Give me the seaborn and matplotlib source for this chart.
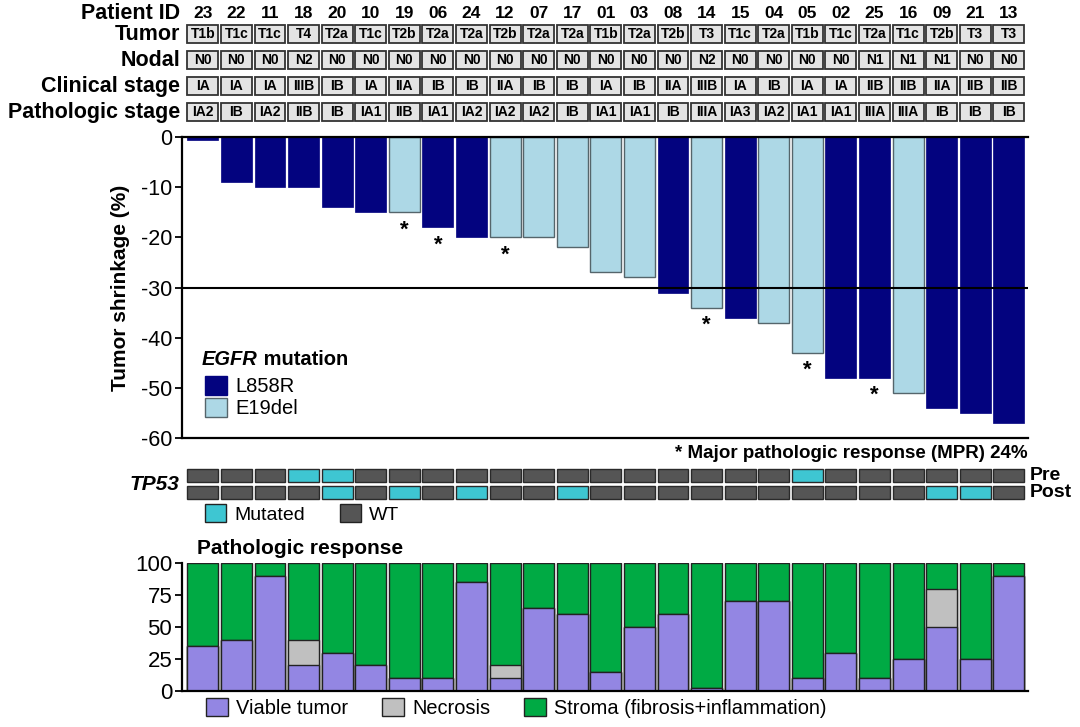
import numpy as np
import pandas as pd
import seaborn as sns
import matplotlib.pyplot as plt
from matplotlib.patches import Patch

# patients, ordered as in the waterfall
patients = ['23', '22', '11', '18', '20', '10', '19', '06', '24', '12', '07', '17', '01',
            '03', '08', '14', '15', '04', '05', '02', '25', '16', '09', '21', '13']
tumor = ['T1b', 'T1c', 'T1c', 'T4', 'T2a', 'T1c', 'T2b', 'T2a', 'T2a', 'T2b', 'T2a', 'T2a', 'T1b',
         'T2a', 'T2b', 'T3', 'T1c', 'T2a', 'T1b', 'T1c', 'T2a', 'T1c', 'T2b', 'T3', 'T3']
nodal = ['N0', 'N0', 'N0', 'N2', 'N0', 'N0', 'N0', 'N0', 'N0', 'N0', 'N0', 'N0', 'N0',
         'N0', 'N0', 'N2', 'N0', 'N0', 'N0', 'N0', 'N1', 'N1', 'N1', 'N0', 'N0']
clinical = ['IA', 'IA', 'IA', 'IIIB', 'IB', 'IA', 'IIA', 'IB', 'IB', 'IIA', 'IB', 'IB', 'IA',
            'IB', 'IIA', 'IIIB', 'IA', 'IB', 'IA', 'IA', 'IIB', 'IIB', 'IIA', 'IIB', 'IIB']
path_stage = ['IA2', 'IB', 'IA2', 'IIB', 'IB', 'IA1', 'IIB', 'IA1', 'IA2', 'IA2', 'IA2', 'IB', 'IA1',
              'IA1', 'IB', 'IIIA', 'IA3', 'IA2', 'IA1', 'IA1', 'IIIA', 'IIIA', 'IB', 'IB', 'IB']

shrinkage = [-0.5, -9, -10, -10, -14, -15, -15, -18, -20, -20, -20, -22, -27,
             -28, -31, -34, -36, -37, -43, -48, -48, -51, -54, -55, -57]
egfr = ['L858R', 'L858R', 'L858R', 'L858R', 'L858R', 'L858R', 'E19del', 'L858R', 'L858R',
        'E19del', 'E19del', 'E19del', 'E19del', 'E19del', 'L858R', 'E19del', 'L858R',
        'E19del', 'E19del', 'L858R', 'L858R', 'E19del', 'L858R', 'L858R', 'L858R']
mpr = ['19', '06', '12', '14', '05', '25']

tp53_pre = ['18', '20', '05']
tp53_post = ['20', '19', '24', '17', '09', '21']

viable = [35, 40, 90, 20, 30, 20, 10, 10, 85, 10, 65, 60, 15, 50, 60, 2, 70, 70, 10, 30, 10, 25, 50, 25, 90]
necrosis = [0, 0, 0, 20, 0, 0, 0, 0, 0, 10, 0, 0, 0, 0, 0, 0, 0, 0, 0, 0, 0, 0, 30, 0, 0]
stroma = [65, 60, 10, 60, 70, 80, 90, 90, 15, 80, 35, 40, 85, 50, 40, 98, 30, 30, 90, 70, 90, 75, 20, 75, 10]

# colours
navy = '#03037f'
light = '#add8e6'
cyan = '#3ec6d2'
wt_grey = '#555555'
c_viable = '#9386e3'
c_necro = '#c0c0c0'
c_stroma = '#00aa44'
box_fill = '#e4e4e4'

sns.set_style('ticks')
plt.rcParams['font.family'] = ['Liberation Sans', 'DejaVu Sans']
plt.rcParams['axes.unicode_minus'] = False
for k in ['text.color', 'axes.labelcolor', 'xtick.color', 'ytick.color', 'axes.edgecolor']:
    plt.rcParams[k] = 'black'

fig = plt.figure(figsize=(10.8, 7.27), dpi=100)
L, W = 182 / 1080, 846 / 1080
XL = (-0.62, 24.57)
xs = np.arange(len(patients))


def rect(top_px, bot_px):
    return [L, 1 - bot_px / 727, W, (bot_px - top_px) / 727]


# ---- header table
axh = fig.add_axes(rect(0, 125))
axh.set_xlim(XL)
axh.set_ylim(3.5, -1.3077)
axh.axis('off')
rows = [('Tumor', tumor), ('Nodal', nodal), ('Clinical stage', clinical), ('Pathologic stage', path_stage)]
for r, (name, vals) in enumerate(rows):
    axh.bar(xs, 0.66, bottom=r - 0.33, width=0.92, color=box_fill, edgecolor='#333333', linewidth=1.3)
    for x, v in zip(xs, vals):
        axh.text(x, r, v, ha='center', va='center', fontsize=10, fontweight='bold')
    axh.text(-0.68, r, name, ha='right', va='center', fontsize=15.5, fontweight='bold')
for x, p in zip(xs, patients):
    axh.text(x, -0.77, p, ha='center', va='center', fontsize=12.5, fontweight='bold')
axh.text(-0.68, -0.77, 'Patient ID', ha='right', va='center', fontsize=15.5, fontweight='bold')

# ---- waterfall
df = pd.DataFrame({'patient': patients, 'shrink': shrinkage, 'egfr': egfr})
ax = fig.add_axes(rect(137, 438))
sns.barplot(data=df, x='patient', y='shrink', hue='egfr', order=patients,
            hue_order=['L858R', 'E19del'], palette=[navy, light], dodge=False,
            width=0.92, saturation=1, errorbar=None, legend=False, ax=ax)
for bar in ax.patches:
    if np.allclose(bar.get_facecolor()[:3], plt.matplotlib.colors.to_rgb(light)):
        bar.set_edgecolor('#55656b')
        bar.set_linewidth(1)
    else:
        bar.set_edgecolor(navy)
        bar.set_linewidth(0.5)
ax.set_xlim(XL)
ax.set_ylim(-60, 0)
ax.set_yticks(range(-60, 1, 10))
ax.set_xticks([])
ax.set_xlabel('')
ax.set_ylabel('Tumor shrinkage (%)', fontsize=15, fontweight='bold')
ax.yaxis.set_label_coords(-0.062, 0.5)
ax.tick_params(axis='y', direction='out', length=5, width=1.3, labelsize=15.5, pad=2)
for s in ['left', 'bottom', 'top']:
    ax.spines[s].set_linewidth(1.6)
ax.spines['right'].set_visible(False)
ax.axhline(-30, color='black', lw=1.5, zorder=5)
for x, p, v in zip(xs, patients, shrinkage):
    if p in mpr:
        ax.text(x, v - 4.6, '*', ha='center', va='baseline', fontsize=16, fontweight='bold')

# legend title with italic gene name
t1 = fig.text(202 / 1080, 1 - 360 / 727, 'EGFR', fontsize=14.5, fontweight='bold', style='italic',
              va='center', ha='left')
ax.annotate(' mutation', xy=(1, 0), xycoords=t1, va='bottom', ha='left',
            fontsize=14.5, fontweight='bold')
fig.legend(handles=[Patch(facecolor=navy, edgecolor=navy, label='L858R'),
                    Patch(facecolor=light, edgecolor='#55656b', label='E19del')],
           loc='upper left', bbox_to_anchor=(205 / 1080, 1 - 376 / 727), ncol=1, frameon=False,
           fontsize=14.5, handlelength=1.1, handleheight=1.05, handletextpad=0.4,
           labelspacing=0.1, borderpad=0, borderaxespad=0)
ax.text(1.0, -0.05, '* Major pathologic response (MPR) 24%', transform=ax.transAxes,
        ha='right', va='center', fontsize=13.5, fontweight='bold')

# ---- TP53 grid
axt = fig.add_axes(rect(466, 502))
axt.set_xlim(XL)
axt.set_ylim(1.559, -0.559)
axt.axis('off')
for r, mut in enumerate([tp53_pre, tp53_post]):
    cols = [cyan if p in mut else wt_grey for p in patients]
    axt.bar(xs, 0.76, bottom=r - 0.38, width=0.92, color=cols, edgecolor='#2a2a2a', linewidth=1)
axt.text(-0.71, 0.5, 'TP53', ha='right', va='center', fontsize=15, fontweight='bold', style='italic')
axt.text(24.63, 0, 'Pre', ha='left', va='center', fontsize=14, fontweight='bold')
axt.text(24.63, 1, 'Post', ha='left', va='center', fontsize=14, fontweight='bold')
fig.legend(handles=[Patch(facecolor=cyan, edgecolor='#222222', label='Mutated'),
                    Patch(facecolor=wt_grey, edgecolor='#222222', label='WT')],
           loc='upper left', bbox_to_anchor=(205 / 1080, 1 - 504 / 727), ncol=2, frameon=False,
           fontsize=14, handlelength=1.1, handleheight=1.05, handletextpad=0.4,
           columnspacing=1.8, borderpad=0, borderaxespad=0)

# ---- pathologic response (stacked)
dfp = pd.DataFrame({'patient': patients, 'viable': viable, 'necrosis': necrosis, 'stroma': stroma})
dfp['vn'] = dfp['viable'] + dfp['necrosis']
dfp['total'] = dfp['vn'] + dfp['stroma']
axp = fig.add_axes(rect(563, 691))
for col, c in [('total', c_stroma), ('vn', c_necro), ('viable', c_viable)]:
    sns.barplot(data=dfp, x='patient', y=col, order=patients, color=c, saturation=1,
                width=0.92, errorbar=None, edgecolor='#222222', linewidth=1, ax=axp)
axp.set_xlim(XL)
axp.set_ylim(0, 100)
axp.set_yticks([0, 25, 50, 75, 100])
axp.set_xticks([])
axp.set_xlabel('')
axp.set_ylabel('')
axp.tick_params(axis='y', direction='out', length=5, width=1.3, labelsize=16, pad=2)
for s in ['left', 'bottom']:
    axp.spines[s].set_linewidth(1.6)
axp.spines['top'].set_visible(False)
axp.spines['right'].set_visible(False)
axp.text(0.0177, 1.117, 'Pathologic response', transform=axp.transAxes, ha='left', va='center',
         fontsize=15, fontweight='bold')
fig.legend(handles=[Patch(facecolor=c_viable, edgecolor='#222222', label='Viable tumor'),
                    Patch(facecolor=c_necro, edgecolor='#222222', label='Necrosis'),
                    Patch(facecolor=c_stroma, edgecolor='#222222', label='Stroma (fibrosis+inflammation)')],
           loc='upper left', bbox_to_anchor=(206 / 1080, 1 - 698 / 727), ncol=3, frameon=False,
           fontsize=14.4, handlelength=1.1, handleheight=1.0, handletextpad=0.4,
           columnspacing=1.7, borderpad=0, borderaxespad=0)

fig.savefig('out.png', dpi=100)
